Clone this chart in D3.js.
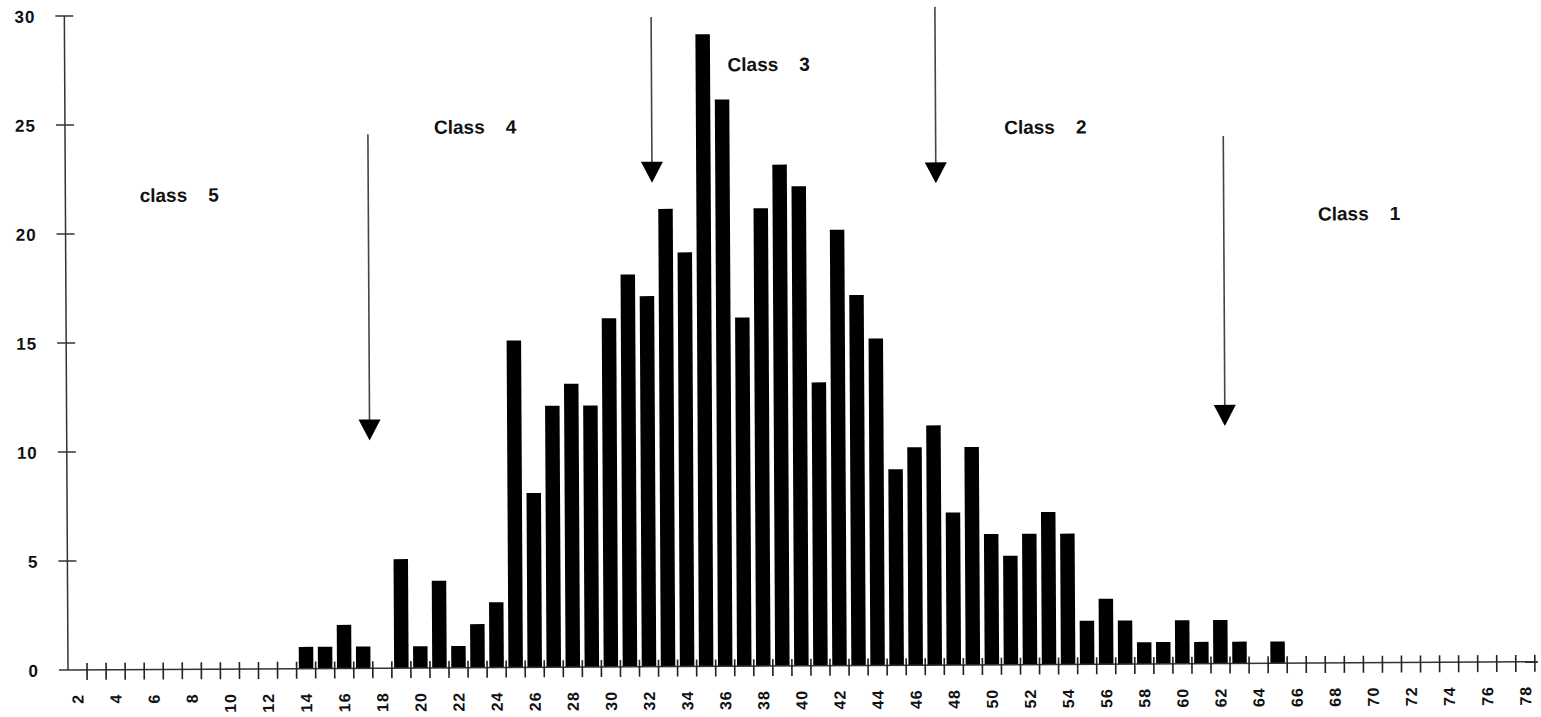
<!DOCTYPE html>
<html>
<head>
<meta charset="utf-8">
<script src="https://cdn.jsdelivr.net/npm/d3@7"></script>
<style>
  body { margin: 0; background: #fff; }
  text { font-family: "Liberation Sans", Arial, sans-serif; fill: #111; }
</style>
</head>
<body>
<div id="graph"></div>
<script>
// bins on the x axis (2 .. 78), one bar per integer
const firstBin = 2
const lastBin = 78
const tickLabels = ['2','4','6','8','10','12','14','16','18','20','22','24','26','28','30','32','34','36','38','40',
  '42','44','46','48','50','52','54','56','58','60','62','64','66','68','70','72','74','76','78']

// counts, bins 14 .. 65
const countStart = 14
const counts = [1, 1, 2, 1, 0, 5, 1, 4, 1, 2, 3, 15, 8, 12, 13, 12, 16, 18, 17, 21, 19, 29, 26, 16, 21,
  23, 22, 13, 20, 17, 15, 9, 10, 11, 7, 10, 6, 5, 6, 7, 6, 2, 3, 2, 1, 1, 2, 1, 2, 1, 0, 1]

const yTicks = [0, 5, 10, 15, 20, 25, 30]

// class boundaries (arrows) and class labels, in data units
const arrowX = [17.4, 32.3, 47.2, 62.3]
const arrowFrom = [24.5, 29.8, 30.2, 24.2]
const arrowTo = [10.45, 22.2, 22.1, 10.9]
const classWord = ['class', 'Class', 'Class', 'Class', 'Class']
const classNum = ['5', '4', '3', '2', '1']
const classX = [5.4, 20.87, 36.3, 50.8, 67.25]
const classY = [21.45, 24.5, 27.3, 24.35, 20.3]

let width = 1541, height = 717
let x0 = 68, y0 = 670

let svg = d3.select('#graph').append('svg')
  .attr('width', width)
  .attr('height', height)

// the scanned page is slightly tilted
let g = svg.append('g').attr('transform', `rotate(-0.32, ${x0}, ${y0})`)

let bins = d3.range(firstBin, lastBin + 1)
let x = d3.scaleBand()
  .domain(bins)
  .range([x0, x0 + 77 * 19.05])
  .paddingInner(0.24)
  .paddingOuter(0.12)
let step = x.step()
// centre of a bin (works for fractional values too)
let xc = v => x0 + (v - firstBin + 0.5) * step

let y = d3.scaleLinear()
  .domain([0, 30])
  .range([y0, 16])

let data = counts.map((c, i) => ({ bin: countStart + i, value: c })).filter(d => d.value > 0)

// bars
g.append('g')
  .selectAll('rect')
  .data(data)
  .join('rect')
  .attr('x', d => xc(d.bin) - x.bandwidth() / 2)
  .attr('y', d => y(d.value))
  .attr('width', x.bandwidth())
  .attr('height', d => y(0) - y(d.value))
  .attr('fill', '#000')

// x axis line + ticks between bars
g.append('line')
  .attr('x1', x0).attr('x2', x0 + 77 * step + 3)
  .attr('y1', y0).attr('y2', y0)
  .attr('stroke', '#333').attr('stroke-width', 1.5)

g.append('g')
  .selectAll('line')
  .data(d3.range(firstBin, lastBin + 1).map(v => v + 0.5))
  .join('line')
  .attr('x1', d => xc(d)).attr('x2', d => xc(d))
  .attr('y1', y0 - 7).attr('y2', y0 + 10)
  .attr('stroke', '#222').attr('stroke-width', 1.6)

g.append('g')
  .selectAll('text')
  .data(tickLabels)
  .join('text')
  .attr('transform', d => `translate(${xc(+d)},${y0 + 24}) rotate(-90)`)
  .attr('text-anchor', 'end')
  .attr('dy', '0.36em')
  .style('font-size', '16px')
  .style('font-weight', 'bold')
  .style('letter-spacing', '1px')
  .text(d => d)

// y axis
g.append('line')
  .attr('x1', x0).attr('x2', x0)
  .attr('y1', y(30)).attr('y2', y0)
  .attr('stroke', '#333').attr('stroke-width', 1.5)

g.append('g')
  .selectAll('line')
  .data(yTicks)
  .join('line')
  .attr('x1', x0 - 9).attr('x2', d => d === 0 ? x0 : x0 + 9)
  .attr('y1', d => y(d)).attr('y2', d => y(d))
  .attr('stroke', '#333').attr('stroke-width', 1.5)

g.append('g')
  .selectAll('text')
  .data(yTicks)
  .join('text')
  .attr('x', x0 - 29)
  .attr('y', d => y(d))
  .attr('dy', '0.38em')
  .attr('text-anchor', 'end')
  .style('font-size', '17px')
  .style('font-weight', 'bold')
  .style('letter-spacing', '1px')
  .text(d => d)

// arrows marking class limits
let arrows = g.append('g')
arrowX.forEach((a, i) => {
  let ax = xc(a)
  let tip = y(arrowTo[i])
  arrows.append('line')
    .attr('x1', ax).attr('x2', ax)
    .attr('y1', y(arrowFrom[i])).attr('y2', tip - 18)
    .attr('stroke', '#444').attr('stroke-width', 1.6)
  arrows.append('path')
    .attr('d', `M${ax - 11},${tip - 21} L${ax + 11},${tip - 21} L${ax},${tip} Z`)
    .attr('fill', '#000')
})

// class labels
classWord.forEach((w, i) => {
  let t = g.append('text')
    .attr('x', xc(classX[i]))
    .attr('y', y(classY[i]))
    .style('font-size', '19px')
    .style('font-weight', 'bold')
    .text(w)
  t.append('tspan')
    .attr('dx', 21)
    .text(classNum[i])
})
</script>
</body>
</html>
